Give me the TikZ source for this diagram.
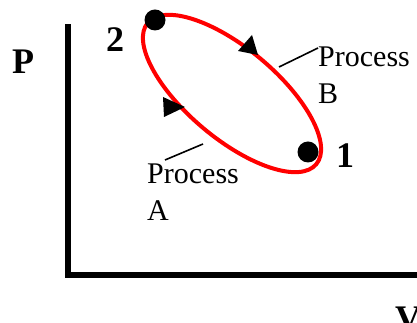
\documentclass[tikz,border=0pt]{standalone}
\usepackage{fontspec}
\setmainfont{Liberation Serif}
\usepackage{tikz}
\usetikzlibrary{arrows.meta, positioning, calc}
\definecolor{pvRed}{RGB}{255,0,0}
\definecolor{pvInk}{RGB}{0,0,0}

\begin{document}
\begin{tikzpicture}[x=1pt,y=1pt,
  axis/.style={draw=pvInk,line width=6pt,line cap=rect},
  cycle/.style={draw=pvRed,line width=4pt},
  state/.style={circle,fill=pvInk,minimum size=21pt,inner sep=0pt},
  big/.style={font=\fontsize{36}{40}\selectfont\bfseries,inner sep=0pt},
  lbl/.style={font=\fontsize{30}{37}\selectfont,inner sep=0pt,
              align=left,anchor=base west},
  lead/.style={draw=pvInk,line width=1.6pt},
  tip/.style={fill=pvInk}]
\useasboundingbox (0,0) rectangle (417,323);

% ===== Axes =====
\coordinate (o) at (68,48);
\coordinate (ytop) at (68,296);
\coordinate (xend) at (425,48);
\draw[axis] (ytop) -- (o) -- (xend);
\node[big] (p) at (23,261) {P};
\node[big,anchor=base] (v) at (408,-8) {V};

% ===== Cycle =====
\draw[cycle] (232,229.5) ellipse[x radius=110,y radius=45,rotate=-40];
\node[state] (s2) at (155,303) {};
\node[state] (s1) at (308,171) {};
\node[big] (n2) at (115,283) {2};
\node[big] (n1) at (345,167) {1};

% direction marks
\fill[tip] (238,272) -- (252,288) -- (258,268) -- cycle;
\fill[tip] (163,226) -- (164,206) -- (185,216) -- cycle;

% ===== Labels =====
\node[lbl] (pb) at (318,219) {Process\\B};
\node[lbl] (pa) at (147,102) {Process\\A};
\coordinate (eb) at (279,256);
\coordinate (ea) at (203,179);
\draw[lead] (eb) -- ($(pb.base west)+(0,56)$);
\draw[lead] (ea) -- ($(pa.base west)+(18,61)$);
\end{tikzpicture}
\end{document}
